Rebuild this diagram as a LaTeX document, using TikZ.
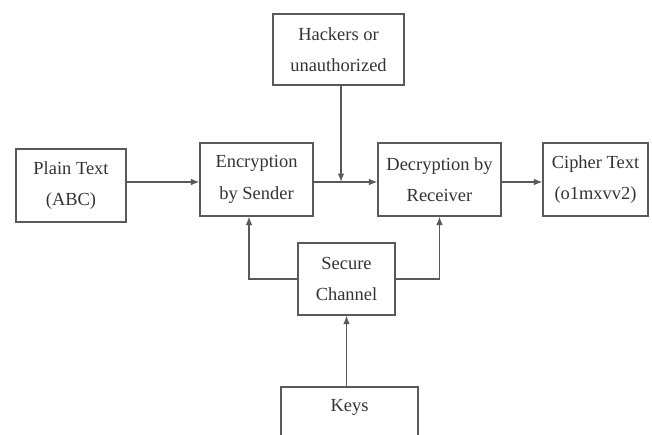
\documentclass[tikz,border=0pt]{standalone}
\usepackage{fontspec}
\setmainfont{Liberation Serif}
\usepackage{tikz}
\usetikzlibrary{arrows.meta}

\begin{document}
\begin{tikzpicture}[
		box/.style={rectangle, draw=black!65, line width=0.6pt, text=black!80, align=center, font=\fontsize{10.5}{18}\selectfont, inner sep=0pt},
		link/.style={draw=black!65, line width=0.7pt, -{Latex[length=1.7mm,width=1.3mm]}}
	]
		
		\useasboundingbox (0,0) rectangle (13.04,-8.68);
		\clip (0,0) rectangle (13.04,-8.68);
		
		\node[box, minimum width=2.62cm, minimum height=1.42cm]
		(hackersNode) at (6.77,-0.99) {Hackers or\\unauthorized};
		
		\node[box, minimum width=2.2cm, minimum height=1.46cm]
		(plainNode) at (1.42,-3.71) {Plain Text\\(ABC)};
		
		\node[box, minimum width=2.26cm, minimum height=1.46cm]
		(encNode) at (5.13,-3.59) {Encryption\\by Sender};
		
		\node[box, minimum width=2.46cm, minimum height=1.46cm]
		(decNode) at (8.79,-3.59) {Decryption by\\Receiver};
		
		\node[box, minimum width=2.1cm, minimum height=1.46cm]
		(cipherNode) at (11.91,-3.59) {Cipher Text\\(o1mxvv2)};
		
		\node[box, minimum width=1.94cm, minimum height=1.44cm]
		(secureNode) at (6.93,-5.58) {Secure\\Channel};
		
		\node[box, minimum width=2.74cm, minimum height=1.44cm, text depth=0pt]
		(keysNode) at (6.99,-8.46) {};
		\node[text=black!80, font=\fontsize{10.5}{18}\selectfont]
		(keysLabel) at (6.99,-8.14) {Keys};
		
		% Main line
		
		\coordinate (mainLine) at (0,-3.64);
		\coordinate (joinPoint) at (6.82,-3.64);
		
		\draw[link] (plainNode.east |- mainLine) -- (encNode.west |- mainLine);
		
		\draw[link] (encNode.east |- mainLine) -- (decNode.west |- mainLine);
		
		\draw[link] (decNode.east |- mainLine) -- (cipherNode.west |- mainLine);
		
		\draw[link] (joinPoint |- hackersNode.south) -- (joinPoint);
		
		% Key lines
		
		\draw[link] (secureNode.west) -| ([xshift=-1.5mm]encNode.south);
		
		\draw[link] (secureNode.east) -| (decNode.south);
		
		\draw[link] (keysNode.north -| secureNode.south) -- (secureNode.south);
		
	\end{tikzpicture}
\end{document}
